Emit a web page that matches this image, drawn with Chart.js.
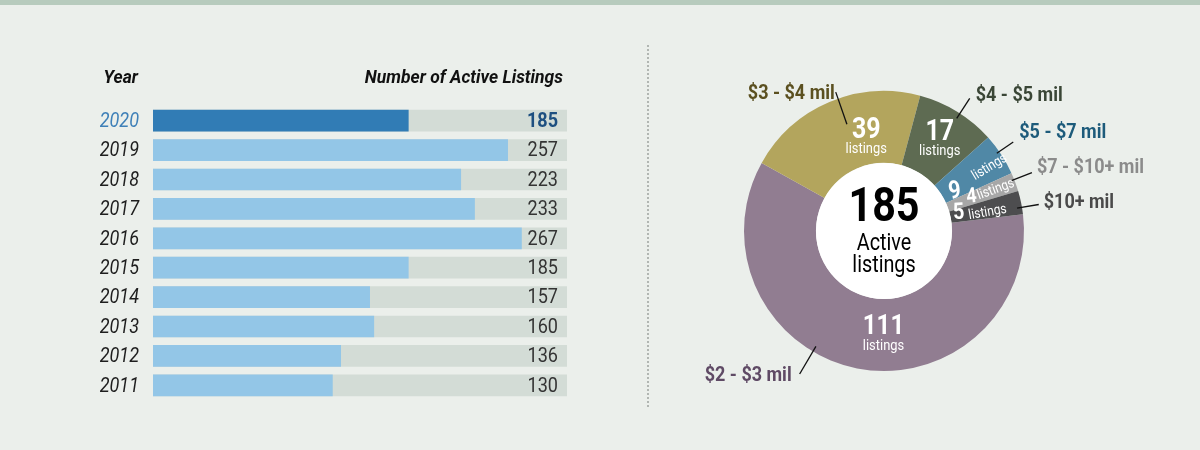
<!DOCTYPE html>
<html>
<head>
<meta charset="utf-8">
<script src="https://cdn.jsdelivr.net/npm/chart.js@4.4.1/dist/chart.umd.min.js"></script>
<style>
  html, body { margin: 0; padding: 0; background: #ebefeb; }
  #wrap { position: relative; width: 1200px; height: 450px; background: #ebefeb; overflow: hidden; }
  #strip { position: absolute; left: 0; top: 0; width: 1200px; height: 5px; background: #b7cbbd; }
  #sep { position: absolute; left: 647px; top: 45px; height: 362px; border-left: 2px dotted #b1b6b2; }
  #bars { position: absolute; left: 0; top: 0; }
  #pie { position: absolute; left: 648px; top: 0; }
</style>
</head>
<body>
<div id="wrap">
  <div id="strip"></div>
  <div id="sep"></div>
  <canvas id="bars" width="648" height="450"></canvas>
  <canvas id="pie" width="552" height="450"></canvas>
</div>
<script>
// bar chart data
const years = ["2020", "2019", "2018", "2017", "2016", "2015", "2014", "2013", "2012", "2011"];
const activeListings = [185, 257, 223, 233, 267, 185, 157, 160, 136, 130];
const axisMax = 300;

// donut data (clockwise from just above 3 o'clock)
const priceRanges = ["$2 - $3 mil", "$3 - $4 mil", "$4 - $5 mil", "$5 - $7 mil", "$7 - $10+ mil", "$10+ mil"];
const rangeCounts = [111, 39, 17, 9, 4, 5];

const sliceColors = ["#917d91", "#b3a55d", "#5e6b52", "#5088a6", "#a7a7a7", "#4d4d4f"];
const labelColors = ["#5f4a65", "#5b5020", "#3a4636", "#1d5b7b", "#8b8b8b", "#4a4a4a"];

const FONT = "Roboto, 'Open Sans', sans-serif";

// roughly fakes a condensed face
function txt(ctx, s, x, y, font, color, align, rot, sx) {
    ctx.save();
    ctx.translate(x, y);
    if (rot) ctx.rotate(rot);
    ctx.scale(sx || 0.86, 1);
    ctx.font = font;
    ctx.fillStyle = color;
    ctx.textAlign = align || "center";
    ctx.textBaseline = "middle";
    ctx.fillText(s, 0, 0);
    ctx.restore();
}

const norm = a => Math.atan2(Math.sin(a), Math.cos(a));

const barText = {
    id: "barText",
    afterDraw(chart) {
        const ctx = chart.ctx;
        const area = chart.chartArea;
        const yScale = chart.scales.y;

        txt(ctx, "Year", area.left - 15, 78, "italic 700 19px " + FONT, "#111", "right", 0, 0.92);
        txt(ctx, "Number of Active Listings", area.right - 4, 78, "italic 700 19px " + FONT, "#111", "right", 0, 0.92);

        years.forEach((year, i) => {
            const y = yScale.getPixelForValue(i) + 1;
            const current = i === 0;
            txt(ctx, year, area.left - 14, y, "italic 400 21px " + FONT, current ? "#3f80b8" : "#1e1e1e", "right");
            txt(ctx, String(activeListings[i]), area.right - 9, y,
                (current ? "700 " : "400 ") + "21px " + FONT, current ? "#1d4f80" : "#333", "right");
        });
    }
};

new Chart(document.getElementById("bars"), {
    type: "bar",
    data: {
        labels: years,
        datasets: [
            {
                data: activeListings,
                backgroundColor: years.map((y, i) => i === 0 ? "#317cb5" : "#93c6e7"),
                barThickness: 21,
                grouped: false
            },
            {
                data: years.map(() => axisMax),
                backgroundColor: "#d3dcd6",
                barThickness: 21,
                grouped: false
            }
        ]
    },
    options: {
        indexAxis: "y",
        responsive: false,
        animation: false,
        layout: { padding: { left: 153, right: 81, top: 106, bottom: 50 } },
        plugins: { legend: { display: false }, tooltip: { enabled: false } },
        scales: {
            x: { display: false, min: 0, max: axisMax },
            y: { display: false }
        }
    },
    plugins: [barText]
});

// where callouts and inner labels sit inside each arc (fraction of the arc, radii)
const callouts = [
    { t: 0.59, rIn: -6, rOut: 26, side: "L", dx: -8, dy: 2 },
    { t: 0.55, rIn: -27, rOut: 7, side: "L", dx: -1, dy: 2 },
    { t: 0.54, rIn: -6, rOut: 18, side: "R", dx: 6, dy: -2 },
    { t: 0.42, rIn: -3, rOut: 17, side: "R", dx: 6, dy: -9 },
    { t: 0.37, rIn: -3, rOut: 19, side: "R", dx: 5, dy: -5 },
    { t: 0.71, rIn: -5, rOut: 17, side: "R", dx: 5, dy: -1 }
];
const inner = [
    { t: 0.45, r: 96, size: 28 },
    { t: 0.67, r: 102, size: 29 },
    { t: 0.44, r: 113, size: 29 },
    { t: 0.75, r: 81, size: 25, tl: 0.62, rl: 104 },
    { t: 0.42, r: 94, size: 21, tl: 0.53, rl: 100 },
    { t: 0.32, r: 77, size: 23, tl: 0.67, rl: 86 }
];

const pieText = {
    id: "pieText",
    afterDatasetsDraw(chart) {
        const ctx = chart.ctx;
        const arcs = chart.getDatasetMeta(0).data;
        const cx = arcs[0].x, cy = arcs[0].y;
        const outer = arcs[0].outerRadius, hole = arcs[0].innerRadius;
        const at = (a, r) => [cx + Math.cos(a) * r, cy + Math.sin(a) * r];

        ctx.save();
        ctx.beginPath();
        ctx.arc(cx, cy, hole, 0, Math.PI * 2);
        ctx.fillStyle = "#fff";
        ctx.fill();
        ctx.restore();

        const total = rangeCounts.reduce((a, b) => a + b, 0);
        txt(ctx, String(total), cx, cy - 22, "700 48px " + FONT, "#000");
        txt(ctx, "Active", cx, cy + 13, "400 23px " + FONT, "#000");
        txt(ctx, "listings", cx, cy + 35, "400 23px " + FONT, "#000");

        arcs.forEach((arc, i) => {
            const span = arc.endAngle - arc.startAngle;
            // callout line + range label
            const c = callouts[i];
            const a = arc.startAngle + span * c.t;
            const p0 = at(a, outer + c.rIn), p1 = at(a, outer + c.rOut);
            ctx.save();
            ctx.beginPath();
            ctx.moveTo(p0[0], p0[1]);
            ctx.lineTo(p1[0], p1[1]);
            ctx.strokeStyle = "#111";
            ctx.lineWidth = 1.3;
            ctx.stroke();
            ctx.restore();
            txt(ctx, priceRanges[i], p1[0] + c.dx, p1[1] + c.dy, "700 20px " + FONT, labelColors[i],
                c.side === "L" ? "right" : "left", 0, 0.9);

            // count inside the slice
            const n = inner[i];
            const an = arc.startAngle + span * n.t;
            const pn = at(an, n.r);
            if (n.tl === undefined) {
                txt(ctx, String(rangeCounts[i]), pn[0], pn[1], "700 " + n.size + "px " + FONT, "#fff");
                txt(ctx, "listings", pn[0], pn[1] + 19, "400 15px " + FONT, "#fff");
            } else {
                txt(ctx, String(rangeCounts[i]), pn[0], pn[1], "700 " + n.size + "px " + FONT, "#fff", "center", norm(an) * 0.3);
                const al = arc.startAngle + span * n.tl;
                const pl = at(al, n.rl);
                txt(ctx, "listings", pl[0], pl[1], "400 14px " + FONT, "#fff", "left", norm(al));
            }
        });
    }
};

new Chart(document.getElementById("pie"), {
    type: "doughnut",
    data: {
        labels: priceRanges,
        datasets: [{ data: rangeCounts, backgroundColor: sliceColors, borderWidth: 0 }]
    },
    options: {
        responsive: false,
        animation: false,
        rotation: 83.1,
        cutout: "48.6%",
        layout: { padding: { left: 96, right: 176, top: 91, bottom: 79 } },
        plugins: { legend: { display: false }, tooltip: { enabled: false } }
    },
    plugins: [pieText]
});
</script>
</body>
</html>
